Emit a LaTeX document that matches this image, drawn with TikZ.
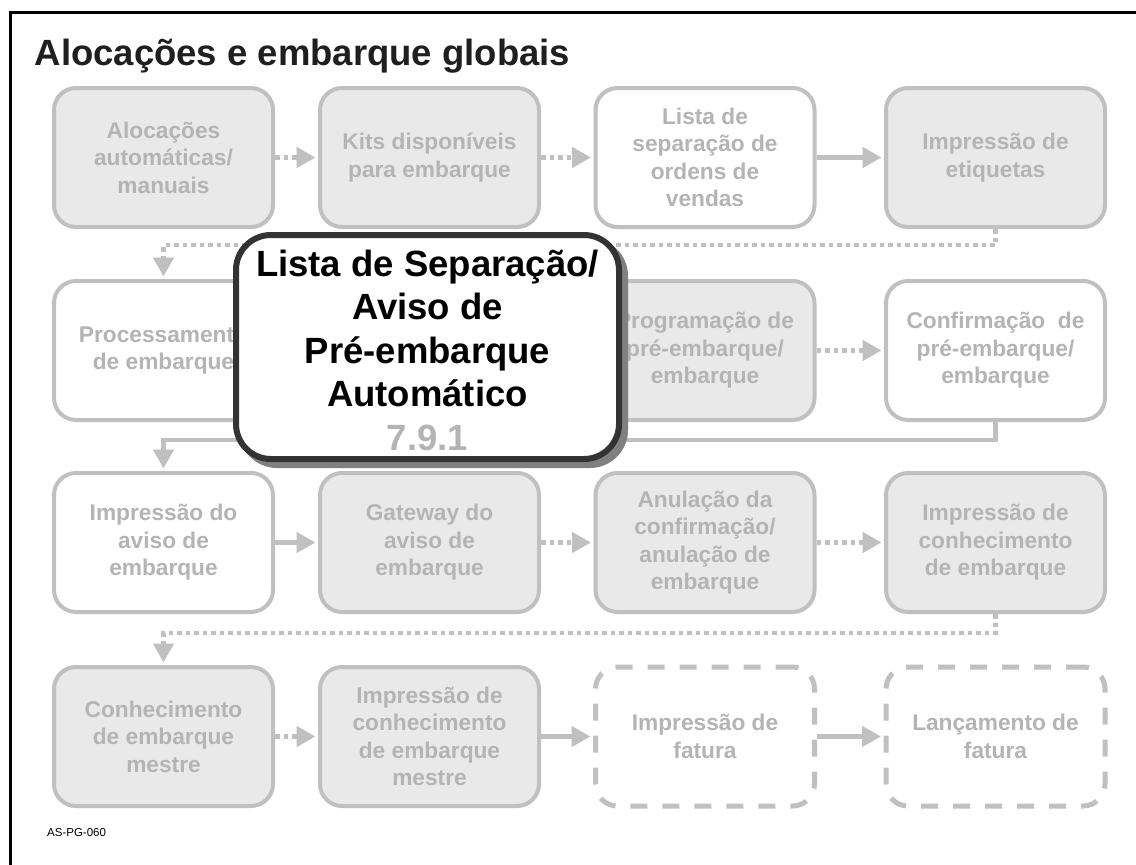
\documentclass[tikz,border=0pt]{standalone}
\usepackage{fontspec}
\setmainfont{Liberation Sans}
\usetikzlibrary{arrows.meta,calc}
\definecolor{bordergray}{HTML}{C0C0C0}
\definecolor{textgray}{HTML}{B4B4B4}
\definecolor{fillgray}{HTML}{E9E9E9}
\definecolor{darkline}{HTML}{333333}
\definecolor{shadowgray}{HTML}{808080}
\definecolor{headcol}{HTML}{1F1F1F}
\begin{document}
\begin{tikzpicture}[x=1pt,y=-1pt,
  stepbox/.style={draw=bordergray, line width=4pt, rounded corners=22pt,
    minimum width=219pt, minimum height=139pt, inner sep=0pt, align=center,
    text=textgray, font=\fontsize{22.7}{27.5}\selectfont\bfseries, fill=white},
  filled/.style={fill=fillgray},
  dashbox/.style={dash pattern=on 17pt off 15pt, line width=5pt},
  solidarrow/.style={draw=bordergray, line width=4.7pt, line cap=butt,
    -{Triangle[length=19pt,width=20pt]}, shorten >=2.5pt},
  dotarrow/.style={solidarrow, dash pattern=on 4.5pt off 4pt},
  calloutbox/.style={line width=6pt, rounded corners=35pt,
    minimum width=383pt, minimum height=224pt, inner sep=0pt},
  callouttext/.style={align=center, text=black,
    font=\fontsize{36.5}{43.5}\selectfont\bfseries, inner sep=0pt},
  heading/.style={anchor=base west, inner sep=0pt, text=headcol,
    font=\fontsize{36.5}{40}\selectfont\bfseries},
  codelabel/.style={anchor=base west, inner sep=0pt, text=black,
    font=\fontsize{11.5}{13}\selectfont}
]
\useasboundingbox (0,0) rectangle (1136,865);
\fill[white] (0,0) rectangle (1136,865);
% frame
\draw[line width=3pt, line join=miter] (10.7,865) -- (10.7,12.5) -- (1136,12.5);

\node[heading] (title) at (34.5,65) {Alocações e embarque globais};

% row 1
\node[stepbox, filled] (r1c1) at (163.5,157.5) {Alocações\\automáticas/\\manuais};
\node[stepbox, filled] (r1c2) at (429.5,157.5) {Kits disponíveis\\para embarque};
\node[stepbox] (r1c3) at (705,157.5) {Lista de\\separação de\\ordens de\\vendas};
\node[stepbox, filled] (r1c4) at (995.5,157.5) {Impressão de\\etiquetas};
% row 2
\node[stepbox] (r2c1) at (163.5,350.5) {Processamento\\de embarque};
\node[stepbox, filled] (r2c3) at (705,350.5) {Programação de\\pré-embarque/\\embarque};
\node[stepbox] (r2c4) at (995.5,350.5) {Confirmação\ \ de\\pré-embarque/\\embarque};
% row 3
\node[stepbox] (r3c1) at (163.5,542.5) {Impressão do\\aviso de\\embarque};
\node[stepbox, filled] (r3c2) at (429.5,542.5) {Gateway do\\aviso de\\embarque};
\node[stepbox, filled] (r3c3) at (705,542.5) {Anulação da\\confirmação/\\anulação de\\embarque};
\node[stepbox, filled] (r3c4) at (995.5,542.5) {Impressão de\\conhecimento\\de embarque};
% row 4
\node[stepbox, filled] (r4c1) at (163.5,736.5) {Conhecimento\\de embarque\\mestre};
\node[stepbox, filled] (r4c2) at (429.5,736.5) {Impressão de\\conhecimento\\de embarque\\mestre};
\node[stepbox, dashbox] (r4c3) at (705,736.5) {Impressão de\\fatura};
\node[stepbox, dashbox] (r4c4) at (995.5,736.5) {Lançamento de\\fatura};

% horizontal connectors
\draw[dotarrow] (r1c1.east) -- (r1c2.west);
\draw[dotarrow] (r1c2.east) -- (r1c3.west);
\draw[solidarrow] (r1c3.east) -- (r1c4.west);
\draw[dotarrow] (r2c3.east) -- (r2c4.west);
\draw[solidarrow] (r3c1.east) -- (r3c2.west);
\draw[dotarrow] (r3c2.east) -- (r3c3.west);
\draw[dotarrow] (r3c3.east) -- (r3c4.west);
\draw[dotarrow] (r4c1.east) -- (r4c2.west);
\draw[solidarrow] (r4c2.east) -- (r4c3.west);
\draw[solidarrow] (r4c3.east) -- (r4c4.west);

% return connectors
\coordinate (j1) at (995.5,245);
\coordinate (j2) at (995.5,440);
\coordinate (j3) at (995.5,633);
\draw[dotarrow] (r1c4.south) -- (j1) -| (r2c1.north);
\draw[solidarrow] (r2c4.south) -- (j2) -| (r3c1.north);
\draw[dotarrow] (r3c4.south) -- (j3) -| (r4c1.north);

% callout
\node[calloutbox, draw=shadowgray, fill=shadowgray] (cshadow) at (433.5,353) {};
\node[calloutbox, draw=darkline, fill=white] (callout) at (427.5,347) {};
\node[callouttext] (ctext) at ($(callout.center)+(0,3)$)
  {Lista de Separação/\\Aviso de\\Pré-embarque\\Automático\\\textcolor{textgray}{7.9.1}};

\node[codelabel] (code) at (47,836) {AS-PG-060};
\end{tikzpicture}
\end{document}
